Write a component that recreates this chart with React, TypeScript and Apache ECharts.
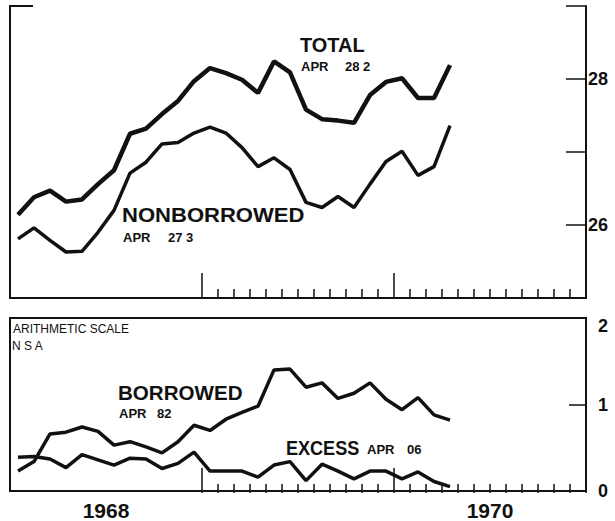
import React, { useEffect, useRef } from "react";
import * as echarts from "echarts";

// Monthly observations, Jan 1968 – Apr 1970
const months = [
  "1968-01", "1968-02", "1968-03", "1968-04", "1968-05", "1968-06", "1968-07", "1968-08", "1968-09", "1968-10", "1968-11", "1968-12",
  "1969-01", "1969-02", "1969-03", "1969-04", "1969-05", "1969-06", "1969-07", "1969-08", "1969-09", "1969-10", "1969-11", "1969-12",
  "1970-01", "1970-02", "1970-03", "1970-04",
];
const total = [
  26.14, 26.38, 26.47, 26.32, 26.35, 26.56, 26.75, 27.25, 27.32, 27.52, 27.7, 27.97,
  28.15, 28.08, 27.99, 27.81, 28.24, 28.09, 27.58, 27.45, 27.43, 27.4, 27.78, 27.96,
  28.01, 27.74, 27.74, 28.19,
];
const nonborrowed = [
  25.81, 25.96, 25.79, 25.63, 25.64, 25.9, 26.2, 26.71, 26.86, 27.11, 27.13, 27.26,
  27.34, 27.26, 27.06, 26.8, 26.92, 26.76, 26.31, 26.24, 26.39, 26.24, 26.56, 26.87,
  27.01, 26.68, 26.8, 27.36,
];
const borrowed = [
  0.23, 0.34, 0.66, 0.68, 0.74, 0.69, 0.53, 0.57, 0.51, 0.44, 0.57, 0.76,
  0.7, 0.83, 0.91, 0.98, 1.4, 1.41, 1.2, 1.25, 1.07, 1.13, 1.25, 1.06,
  0.94, 1.08, 0.88, 0.82,
];
const excess = [
  0.39, 0.4, 0.37, 0.27, 0.42, 0.36, 0.3, 0.38, 0.37, 0.26, 0.32, 0.45,
  0.23, 0.23, 0.23, 0.16, 0.3, 0.34, 0.12, 0.31, 0.23, 0.14, 0.23, 0.23,
  0.14, 0.22, 0.11, 0.05,
];
const yearLabels = ["1968", "", "1970"];
const topScaleLabels = [26, 28];
const bottomScaleLabels = [0, 1, 2];

const FONT = "Liberation Sans, Arial, sans-serif";

export default function App() {
  const ref = useRef<HTMLDivElement>(null);
  useEffect(() => {
    if (!ref.current) return;
    const chart = echarts.init(ref.current, undefined, { renderer: "svg" });
    const pts = (arr: number[]) => arr.map((v, i) => [i + 0.5, v]);
    const black = "#111";
    const hiddenY = (gridIndex: number) => ({
      type: "value", gridIndex, min: 0, max: 1, show: false,
    });
    const tickAxis = (gridIndex: number) => ({
      type: "value", gridIndex, min: 12, max: 36, interval: 12,
      axisLine: { show: false, onZero: false },
      axisTick: { show: true, inside: true, length: 25, lineStyle: { color: black, width: 1.5 } },
      minorTick: { show: true, splitNumber: 12, length: 9, lineStyle: { color: black, width: 1.5 } },
      axisLabel: { show: false },
      splitLine: { show: false },
      minorSplitLine: { show: false },
    });
    const bigText = (text: string, x: number, y: number, sx: number) => ({
      type: "text", x, y, scaleX: sx,
      style: { text, fill: black, font: `bold 21px ${FONT}`, verticalAlign: "top" },
    });
    const smallText = (text: string, x: number, y: number) => ({
      type: "text", x, y,
      style: { text, fill: black, font: `bold 13px ${FONT}`, verticalAlign: "top" },
    });
    chart.setOption({
      animation: false,
      backgroundColor: "#fff",
      grid: [
        { left: 10, top: 6, width: 576, height: 292 },
        { left: 10, top: 318, width: 576, height: 175, show: true, borderColor: black, borderWidth: 2, backgroundColor: "transparent" },
        { left: 202, top: 6, width: 384, height: 292 },
        { left: 202, top: 318, width: 384, height: 175 },
      ],
      xAxis: [
        {
          type: "value", gridIndex: 0, min: 0, max: 36, position: "bottom",
          axisLine: { show: true, onZero: false, lineStyle: { color: black, width: 2 } },
          axisTick: { show: false }, axisLabel: { show: false }, splitLine: { show: false },
        },
        {
          type: "value", gridIndex: 1, min: 0, max: 36, interval: 6, position: "bottom",
          axisLine: { show: false, onZero: false }, axisTick: { show: false }, splitLine: { show: false },
          axisLabel: {
            show: true, margin: 9, color: black, fontSize: 21, fontWeight: "bold", fontFamily: FONT,
            formatter: (v: number) => (v % 12 === 6 ? yearLabels[(v - 6) / 12] || "" : ""),
          },
        },
        tickAxis(2),
        tickAxis(3),
      ],
      yAxis: [
        {
          type: "value", gridIndex: 0, position: "right", min: 25, max: 29, interval: 1,
          axisLine: { show: true, onZero: false, lineStyle: { color: black, width: 2 } },
          axisTick: { show: true, inside: true, length: 20, lineStyle: { color: black, width: 1.5 } },
          splitLine: { show: false },
          axisLabel: {
            show: true, margin: 2, color: black, fontSize: 18, fontWeight: "bold", fontFamily: FONT,
            formatter: (v: number) => (topScaleLabels.includes(v) ? String(v) : ""),
          },
        },
        {
          type: "value", gridIndex: 0, position: "left", min: 25, max: 29,
          axisLine: { show: true, onZero: false, lineStyle: { color: black, width: 2 } },
          axisTick: { show: false }, axisLabel: { show: false }, splitLine: { show: false },
        },
        {
          type: "value", gridIndex: 1, position: "right", min: 0, max: 2, interval: 1,
          axisLine: { show: true, onZero: false, lineStyle: { color: black, width: 2 } },
          axisTick: { show: true, inside: true, length: 17, lineStyle: { color: black, width: 1.5 } },
          splitLine: { show: false },
          axisLabel: {
            show: true, margin: 12, color: black, fontSize: 18, fontWeight: "bold", fontFamily: FONT,
            formatter: (v: number) =>
              bottomScaleLabels.includes(v) ? (v === 2 ? `{d|${v}}` : String(v)) : "",
            rich: { d: { padding: [16, 0, 0, 0], fontSize: 18, fontWeight: "bold", fontFamily: FONT, color: black } },
          },
        },
        hiddenY(2),
        hiddenY(3),
      ],
      series: [
        { name: "TOTAL", type: "line", xAxisIndex: 0, yAxisIndex: 0, data: pts(total), symbol: "none", lineStyle: { color: black, width: 4.5 } },
        { name: "NONBORROWED", type: "line", xAxisIndex: 0, yAxisIndex: 0, data: pts(nonborrowed), symbol: "none", lineStyle: { color: black, width: 3.5 } },
        { name: "BORROWED", type: "line", xAxisIndex: 1, yAxisIndex: 2, data: pts(borrowed), symbol: "none", lineStyle: { color: black, width: 3.5 } },
        { name: "EXCESS", type: "line", xAxisIndex: 1, yAxisIndex: 2, data: pts(excess), symbol: "none", lineStyle: { color: black, width: 3.5 } },
      ],
      graphic: [
        { type: "line", shape: { x1: 9, y1: 6, x2: 33, y2: 6 }, style: { stroke: black, lineWidth: 2 } },
        bigText("TOTAL", 300, 34, 0.95),
        smallText("APR", 301, 60),
        smallText("28 2", 345, 60),
        bigText("NONBORROWED", 122, 205, 1.05),
        smallText("APR", 123, 231),
        smallText("27 3", 168, 231),
        {
          type: "text", x: 13, y: 323,
          style: { text: "ARITHMETIC SCALE", fill: black, font: `12px ${FONT}`, verticalAlign: "top" },
        },
        {
          type: "text", x: 12, y: 340,
          style: { text: "N S A", fill: black, font: `12px ${FONT}`, verticalAlign: "top" },
        },
        bigText("BORROWED", 118, 382, 0.98),
        smallText("APR", 119, 407),
        smallText("82", 157, 407),
        bigText("EXCESS", 286, 437, 0.86),
        smallText("APR", 367, 443),
        smallText("06", 407, 443),
      ],
    });
    return () => chart.dispose();
  }, []);
  return (
    <div
      ref={ref}
      style={{ position: "fixed", left: 0, top: 0, width: 615, height: 521, background: "#fff" }}
    />
  );
}
